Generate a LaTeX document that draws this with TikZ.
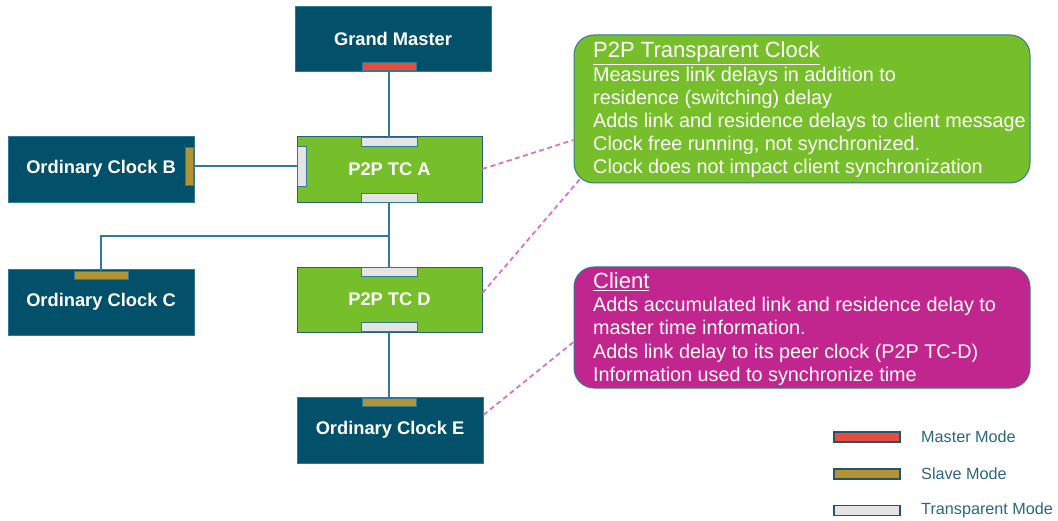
\documentclass[tikz,border=0pt]{standalone}
\usepackage{fontspec}
\setmainfont{Liberation Sans}
\definecolor{navy}{HTML}{03506B}
\definecolor{edge}{HTML}{2E7A97}
\definecolor{tcgreen}{HTML}{76BF2A}
\definecolor{clmag}{HTML}{C0268E}
\definecolor{mred}{HTML}{E84C3D}
\definecolor{sgold}{HTML}{B39333}
\definecolor{tgray}{HTML}{E4E4E4}
\definecolor{dashmag}{HTML}{D873C2}
\definecolor{legtext}{HTML}{2A6682}
\begin{document}
\begin{tikzpicture}[x=1pt,y=-1pt,
  clockbox/.style={draw=edge,line width=0.9pt,fill=navy,text=white,inner sep=0pt,
    minimum width=186pt,minimum height=66pt,font=\fontsize{18.3}{20}\selectfont\bfseries},
  tcbox/.style={clockbox,fill=tcgreen,draw=edge!80!black},
  port/.style={draw=edge,line width=0.7pt,inner sep=0pt,minimum width=54pt,minimum height=8pt},
  tport/.style={port,fill=tgray,minimum width=56pt,minimum height=9pt},
  vport/.style={port,fill=tgray,minimum width=9pt,minimum height=40pt},
  link/.style={draw=edge,line width=1.3pt},
  note/.style={draw=edge,line width=1pt,rounded corners=20pt,inner sep=0pt,minimum width=456pt},
  notetext/.style={anchor=west,align=left,inner sep=0pt,text=white,
    font=\fontsize{19.8}{23.2}\selectfont},
  noteline/.style={draw=dashmag,line width=1.8pt,dash pattern=on 5pt off 3.5pt},
  legbar/.style={draw=edge!70!black,line width=1.2pt,inner sep=0pt,minimum width=66pt,minimum height=10pt},
  legtxt/.style={anchor=west,inner sep=0pt,text=legtext,font=\fontsize{16.2}{18}\selectfont}
]
\useasboundingbox (0,0) rectangle (1058,521);

% clocks
\node[clockbox,minimum width=196pt,minimum height=65pt] (gm) at (393,38.5) {Grand Master};
\node[clockbox] (ocb) at (101,169) {Ordinary Clock B};
\node[tcbox,minimum width=185pt] (tca) at (389.5,169) {P2P TC A};
\node[clockbox] (occ) at (101,302) {Ordinary Clock C};
\node[tcbox,minimum width=185pt,minimum height=65pt] (tcd) at (389.5,299.5) {P2P TC D};
\node[clockbox] (oce) at (390,430) {Ordinary Clock E};

% port states
\node[port,fill=mred] (gmport) at (389,66) {};
\node[tport] (atop) at (389,141.5) {};
\node[tport] (abot) at (389,197.5) {};
\node[vport] (aleft) at (301.5,166) {};
\node[port,fill=sgold,minimum width=8pt,minimum height=38pt] (bport) at (189,166) {};
\node[port,fill=sgold] (cport) at (101,275) {};
\node[tport] (dtop) at (389,272) {};
\node[tport] (dbot) at (389,326.5) {};
\node[port,fill=sgold] (eport) at (389,402) {};

% links
\draw[link] (gmport) -- (atop);
\draw[link] (bport) -- (aleft);
\draw[link] (abot) -- (dtop);
\coordinate (tee) at (389,236);
\draw[link] (tee) -| (cport);
\draw[link] (dbot) -- (eport);

% notes
\node[note,fill=tcgreen,minimum height=148pt] (tcnote) at (802,109) {};
\node[notetext] at (593,110) {{\fontsize{22}{23.2}\selectfont\underline{P2P Transparent Clock}}\\
  Measures link delays in addition to\\
  residence (switching) delay\\
  Adds link and residence delays to client message\\
  Clock free running, not synchronized.\\
  Clock does not impact client synchronization};
\node[note,fill=clmag,minimum height=121pt] (clnote) at (802,327.5) {};
\node[notetext] at (593,329) {{\fontsize{22}{23.2}\selectfont\underline{Client}}\\
  Adds accumulated link and residence delay to\\
  master time information.\\
  Adds link delay to its peer clock (P2P TC-D)\\
  Information used to synchronize time};

% note pointers
\draw[noteline] (tca.east) -- ([yshift=-31pt]tcnote.west);
\draw[noteline] ([yshift=6.5pt]tcd.east) -- ([xshift=7pt,yshift=5pt]tcnote.south west);
\draw[noteline] ([yshift=15pt]oce.east) -- ([yshift=-14.5pt]clnote.west);

% legend
\node[legbar,fill=mred] (lgm) at (867,437) {};
\node[legtxt] at (921,436.5) {Master Mode};
\node[legbar,fill=sgold] (lgs) at (867,474) {};
\node[legtxt] at (921,473.5) {Slave Mode};
\node[legbar,fill=tgray] (lgt) at (867,510.5) {};
\node[legtxt] at (921,510) {Transparent Mode};
\end{tikzpicture}
\end{document}
